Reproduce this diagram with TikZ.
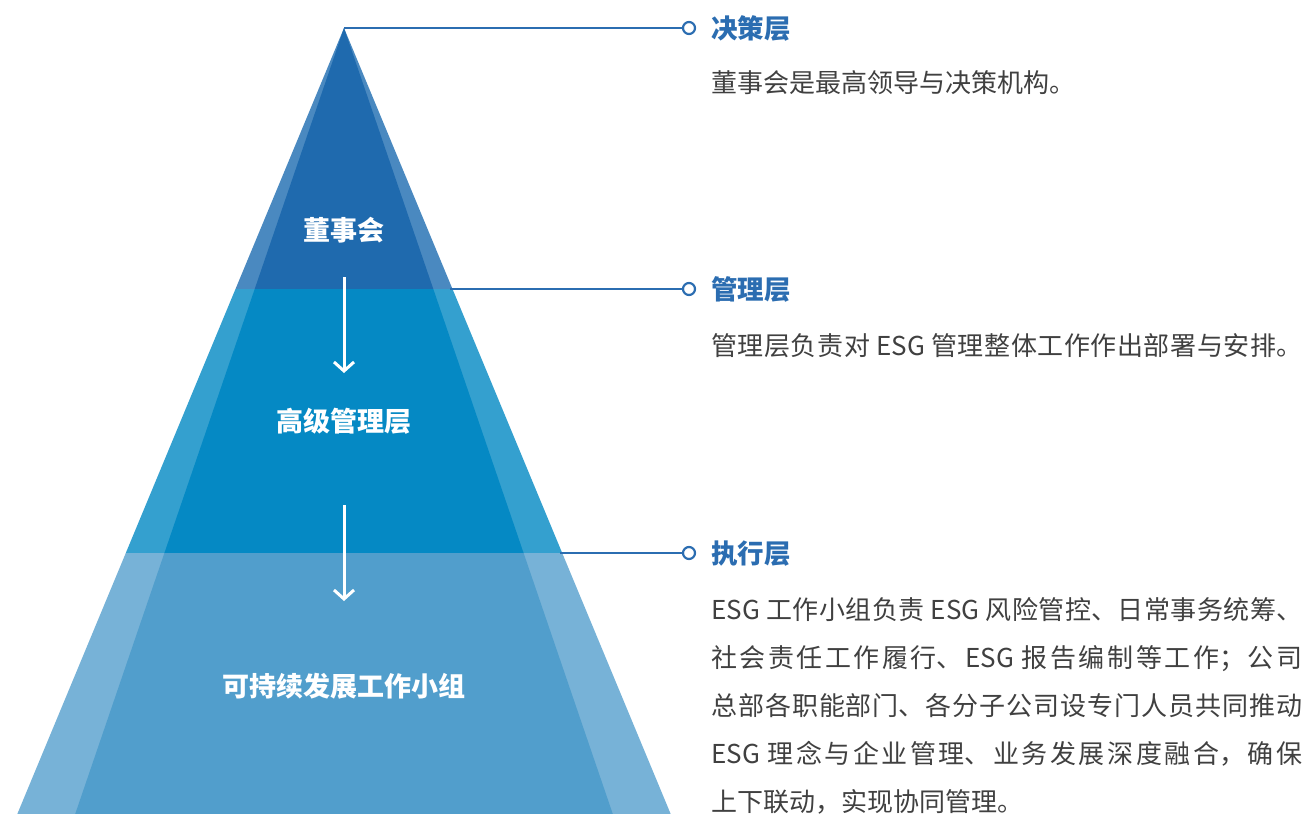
\documentclass[tikz,border=0pt]{standalone}
\usepackage{fontspec}
\setmainfont{Noto Sans CJK SC}
\usetikzlibrary{arrows.meta}
\XeTeXlinebreaklocale "zh"
\XeTeXlinebreakskip=0pt plus 4pt
\definecolor{topin}{HTML}{1F6AAE}
\definecolor{topout}{HTML}{4A89C0}
\definecolor{midin}{HTML}{0589C4}
\definecolor{midout}{HTML}{34A0CF}
\definecolor{botin}{HTML}{519ECC}
\definecolor{botout}{HTML}{77B2D7}
\definecolor{titleblue}{HTML}{2B6DB1}
\definecolor{bodygray}{HTML}{404040}
\tikzset{
  tierlabel/.style={anchor=base, text=white, font=\fontsize{27pt}{30pt}\selectfont\bfseries, inner sep=0pt},
  layertitle/.style={anchor=base west, text=titleblue, font=\fontsize{26.5pt}{30pt}\selectfont\bfseries, inner sep=0pt},
  bodyline/.style={anchor=base west, text=bodygray, font=\fontsize{26pt}{30pt}\selectfont, inner sep=0pt, text width=591pt, align=justify},
  bodyfree/.style={anchor=base west, text=bodygray, font=\fontsize{26pt}{30pt}\selectfont, inner sep=0pt},
  dot/.style={circle, draw=titleblue, line width=2.2pt, fill=white, minimum size=12pt, inner sep=0pt},
  connector/.style={draw=titleblue, line width=1.4pt},
  downarrow/.style={draw=white, line width=3pt, -{Straight Barb[length=9pt,width=20pt,line width=3pt]}}
}
\begin{document}
\begin{tikzpicture}[x=1pt,y=-1pt]
\useasboundingbox (0,0) rectangle (1302,814);
% pyramid tiers: outer light bands then inner darker faces
\fill[topout] (344,28) -- (452.5,289) -- (235.5,289) -- cycle;
\fill[topin] (344,28) -- (433.3,289) -- (254.7,289) -- cycle;
\fill[midout] (235.5,289) -- (452.5,289) -- (562.2,553) -- (125.8,553) -- cycle;
\fill[midin] (254.7,289) -- (433.3,289) -- (523.6,553) -- (164.4,553) -- cycle;
\fill[botout] (125.8,553) -- (562.2,553) -- (670.7,814) -- (17.3,814) -- cycle;
\fill[botin] (164.4,553) -- (523.6,553) -- (612.8,814) -- (75.2,814) -- cycle;

% tier labels
\node[tierlabel] (board) at (344,240) {董事会};
\node[tierlabel] (senior) at (344,431) {高级管理层};
\node[tierlabel] (group) at (344,696) {可持续发展工作小组};

% arrows
\coordinate (a1s) at (344,277);
\coordinate (a1e) at (344,373);
\coordinate (a2s) at (344,505);
\coordinate (a2e) at (344,601);
\draw[downarrow] (a1s) -- (a1e);
\draw[downarrow] (a2s) -- (a2e);

% connectors
\coordinate (apex) at (344,28);
\coordinate (e2) at (450,289);
\coordinate (e3) at (560,553);
\node[dot] (d1) at (689,28) {};
\node[dot] (d2) at (689,289) {};
\node[dot] (d3) at (689,553) {};
\draw[connector] (apex) -- (d1);
\draw[connector] (e2) -- (d2);
\draw[connector] (e3) -- (d3);

% titles
\node[layertitle] (t1) at (711,38) {决策层};
\node[layertitle] (t2) at (711,299) {管理层};
\node[layertitle] (t3) at (711,563) {执行层};

% body text
\node[bodyfree] (b1) at (711,92) {董事会是最高领导与决策机构。};
\node[bodyline] (b2) at (711,355) {\parfillskip=0pt 管理层负责对 ESG 管理整体工作作出部署与安排。\par};
\node[bodyline] (b3a) at (711,619) {\parfillskip=0pt ESG 工作小组负责 ESG 风险管控、日常事务统筹、\par};
\node[bodyline] (b3b) at (711,667) {\parfillskip=0pt 社会责任工作履行、ESG 报告编制等工作；公司\par};
\node[bodyline] (b3c) at (711,715) {\parfillskip=0pt 总部各职能部门、各分子公司设专门人员共同推动\par};
\node[bodyline] (b3d) at (711,763) {\parfillskip=0pt ESG 理念与企业管理、业务发展深度融合，确保\par};
\node[bodyfree] (b3e) at (711,811) {上下联动，实现协同管理。};
\end{tikzpicture}
\end{document}
